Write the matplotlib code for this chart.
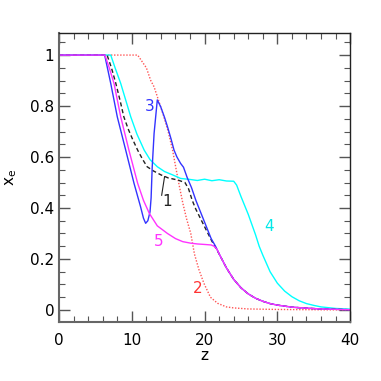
import numpy as np
import matplotlib
matplotlib.use('Agg')
import matplotlib.pyplot as plt
from matplotlib.ticker import MultipleLocator

# common tail shared by curves 1, 3, 5 (z >= 22)
z_tail = [22, 23, 24, 25, 26, 27, 28, 29, 30, 32, 34, 36, 40]
x_tail = [0.22, 0.165, 0.12, 0.087, 0.063, 0.046, 0.034, 0.025, 0.019, 0.011, 0.007, 0.004, 0.001]

# curve 1 (black dashed)
z1 = [0, 6.6, 7.2, 7.8, 8.4, 8.9, 9.5, 10.1, 10.8, 11.5, 12.1, 13.0, 14.0, 15.0, 16.3, 17.3,
      17.8, 18.3, 18.8, 19.5, 20.2, 21.0, 21.5] + z_tail
x1 = [1, 1, 0.95, 0.889, 0.82, 0.758, 0.71, 0.67, 0.627, 0.59, 0.562, 0.545, 0.53, 0.518, 0.51, 0.5,
      0.475, 0.43, 0.395, 0.355, 0.315, 0.27, 0.245] + x_tail

# curve 2 (red dotted)
z2 = [0, 10.8, 12.0, 12.6, 13.05, 13.7, 14.4, 15.0, 15.6, 16.1, 16.5, 17.0, 17.5, 18.1, 18.6,
      19.2, 19.9, 20.8, 21.8, 23.0, 24.0, 26.0, 30.0, 35.0, 40.0]
x2 = [1, 1, 0.95, 0.9, 0.876, 0.82, 0.758, 0.70, 0.627, 0.55, 0.49, 0.42, 0.36, 0.30, 0.22,
      0.16, 0.105, 0.05, 0.026, 0.012, 0.008, 0.004, 0.002, 0.001, 0.0]

# curve 3 (blue)
z3 = [0, 6.27, 7.1, 8.0, 9.16, 10.3, 11.2, 11.6, 11.9, 12.2, 12.5, 12.65, 12.8, 13.06, 13.5,
      13.97, 14.5, 14.9, 15.4, 15.8, 16.2, 16.7, 17.1, 17.6, 18.2, 18.8, 19.5, 20.2, 20.9, 21.5] + z_tail
x3 = [1, 1, 0.889, 0.758, 0.627, 0.497, 0.405, 0.36, 0.34, 0.35, 0.385, 0.44, 0.56, 0.693, 0.824,
      0.797, 0.755, 0.719, 0.67, 0.627, 0.60, 0.575, 0.56, 0.52, 0.48, 0.43, 0.38, 0.33, 0.28, 0.25] + x_tail

# curve 4 (cyan)
z4 = [0, 7.1, 7.7, 8.47, 9.85, 10.7, 11.7, 12.5, 13.5, 14.5, 15.6, 16.7, 18, 19, 20, 21, 22, 23, 24,
      24.4, 25, 25.5, 26, 26.5, 27, 27.5, 28, 29, 30, 31, 32, 33, 34, 35, 36, 38, 40]
x4 = [1, 1, 0.95, 0.889, 0.758, 0.69, 0.627, 0.59, 0.562, 0.543, 0.53, 0.516, 0.512, 0.508, 0.513,
      0.507, 0.511, 0.506, 0.505, 0.49, 0.445, 0.41, 0.375, 0.335, 0.295, 0.25, 0.215, 0.15, 0.105,
      0.074, 0.052, 0.036, 0.025, 0.018, 0.012, 0.006, 0.003]

# curve 5 (magenta)
z5 = [0, 6.3, 6.9, 7.55, 8.47, 9.6, 10.8, 11.6, 12.4, 13.5, 14.9, 16.0, 17.0, 18.1, 19.0, 20.0,
      20.9, 21.3, 21.7] + z_tail
x5 = [1, 1, 0.95, 0.889, 0.758, 0.627, 0.497, 0.43, 0.379, 0.33, 0.30, 0.28, 0.268, 0.262, 0.259,
      0.257, 0.255, 0.25, 0.238] + x_tail

# curve labels
lab_text = ['1', '2', '3', '4', '5']
lab_z = [14.8, 19.0, 12.4, 28.9, 13.7]
lab_x = [0.425, 0.085, 0.80, 0.327, 0.27]
lab_col = ['#222222', '#ff3333', '#3333ff', '#00e8e8', '#ff33ff']

fig = plt.figure(figsize=(3.81, 3.81), dpi=100)
ax = fig.add_axes([0.155, 0.155, 0.764, 0.759])

ax.plot(z2, x2, color='#ff5555', lw=1, ls=(0, (1, 1.2)))
ax.plot(z4, x4, color='#00ffff', lw=1)
ax.plot(z1, x1, color='#222222', lw=1, ls=(0, (3, 2)))
ax.plot(z3, x3, color='#3333ff', lw=1)
ax.plot(z5, x5, color='#ff33ff', lw=1)

for t, zz, xx, c in zip(lab_text, lab_z, lab_x, lab_col):
    ax.text(zz, xx, t, color=c, fontsize=11, ha='center', va='center')
ax.plot([14.1, 14.5], [0.45, 0.523], color='#222222', lw=0.8)

ax.set_xlim(0, 40)
ax.set_ylim(-0.047, 1.0875)
ax.xaxis.set_major_locator(MultipleLocator(10))
ax.xaxis.set_minor_locator(MultipleLocator(2))
ax.yaxis.set_major_locator(MultipleLocator(0.2))
ax.yaxis.set_minor_locator(MultipleLocator(0.05))
ax.set_yticks([0, 0.2, 0.4, 0.6, 0.8, 1.0])
ax.set_yticklabels(['0', '0.2', '0.4', '0.6', '0.8', '1'])
ax.tick_params(which='both', direction='in', top=True, right=True, labelsize=11, color='#555555')
ax.tick_params(which='major', length=8, width=1)
ax.tick_params(which='minor', length=4, width=0.8)
ax.tick_params(axis='x', pad=8)
for s in ['left', 'bottom']:
    ax.spines[s].set_color('#666666')
    ax.spines[s].set_linewidth(1.5)
for s in ['top', 'right']:
    ax.spines[s].set_color('#222222')
    ax.spines[s].set_linewidth(1)

ax.set_xlabel('z', fontsize=11, labelpad=0)
ax.set_ylabel('$\\mathregular{x_e}$', fontsize=11, labelpad=8)

fig.savefig('out.png', dpi=100)
